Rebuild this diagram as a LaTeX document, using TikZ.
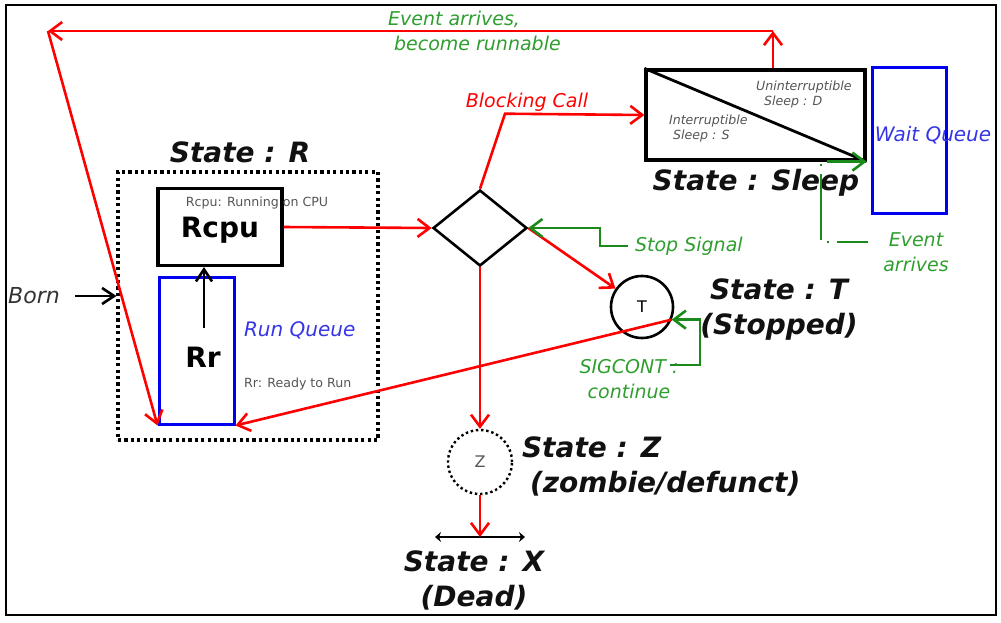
\documentclass[tikz,border=0pt]{standalone}
\usepackage{fontspec}
\setmainfont{DejaVu Sans}
\usepackage{xcolor}
\usepackage{tikz}
\usetikzlibrary{shapes.geometric,arrows.meta,positioning,calc}
\definecolor{PSRed}    {HTML}{FF0000}
\definecolor{PSGreen}  {HTML}{1A8A1A}
\definecolor{PSGreenLt}{HTML}{2E9E2E}
\definecolor{PSBlue}   {HTML}{0000F0}
\definecolor{PSBlueLt} {HTML}{3535E6}
\definecolor{PSGray}   {HTML}{555555}
\definecolor{PSInk}    {HTML}{111111}

\begin{document}
\begin{tikzpicture}[x=0.5pt,y=-0.5pt,
    redarr/.style={draw=PSRed,line width=1.3pt,-{Straight Barb[length=6pt,width=9pt]}},
    grnarr/.style={draw=PSGreen,line width=1.3pt,-{Straight Barb[length=6pt,width=9pt]}},
    blkarr/.style={draw=black,line width=1.3pt,-{Straight Barb[length=6pt,width=8pt]}},
    statelbl/.style={font=\fontsize{14}{17.5}\selectfont\bfseries\itshape,text=PSInk},
    grnlbl/.style={font=\fontsize{9.5}{12.5}\selectfont\itshape,text=PSGreenLt},
    tinylbl/.style={font=\fontsize{6.3}{7.5}\selectfont,text=PSGray},
    box/.style={draw,line width=1.6pt,inner sep=0pt}]
  \useasboundingbox (0,0) rectangle (1001,622);
  \draw[line width=1.4pt] (6,5) rectangle (996,615);

  % State R
  \node[draw,dash pattern=on 1.6pt off 1.6pt,line width=1.6pt,minimum width=130pt,
        minimum height=134pt,inner sep=0pt] (rbox) at (248,306) {};
  \node[statelbl] (rlbl) at (240,152) {State : R};
  \node[box,minimum width=62pt,minimum height=38.5pt,text depth=0pt,
        font=\fontsize{14}{16}\selectfont\bfseries] (rcpu) at (220,227) {Rcpu};
  \node[tinylbl] (rcpunote) at (257,203) {Rcpu: Running on CPU};
  \node[box,draw=PSBlue,line width=1.5pt,minimum width=37.5pt,minimum height=73.5pt] (rr) at (196.5,350.5) {};
  \node[font=\fontsize{14}{16}\selectfont\bfseries] (rrtxt) at (203,357) {Rr};
  \node[font=\fontsize{10}{12}\selectfont\itshape,text=PSBlueLt,anchor=west] (rql) at (237,330) {Run Queue};
  \node[tinylbl,anchor=west] (rrnote) at (237,384) {Rr: Ready to Run};
  \coordinate (rrup) at (204,328);
  \draw[blkarr] (rrup) -- (rrup |- rcpu.south);

  % Born
  \node[font=\fontsize{11}{13}\selectfont\itshape,text=PSGray!60!black] (born) at (34,296) {Born};
  \draw[blkarr] ([xshift=4pt]born.east) -- (born -| rbox.west);

  % Decision
  \node[draw,diamond,line width=1.3pt,minimum width=47pt,minimum height=38pt,inner sep=0pt] (dec) at (480,228) {};
  \draw[redarr] (rcpu.east) -- (dec.west);

  % Sleep
  \node[box,minimum width=109.5pt,minimum height=45pt] (sleep) at (755.5,115) {};
  \draw[line width=1.4pt] (sleep.north west) -- (sleep.south east);
  \node[tinylbl,font=\fontsize{6.3}{7.5}\selectfont\itshape,align=left,anchor=west]
    (uninter) at (749,95) {Uninterruptible\\\hspace*{4pt}Sleep : D};
  \node[tinylbl,font=\fontsize{6.3}{7.5}\selectfont\itshape,align=left,anchor=west]
    (inter) at (662,129) {Interruptible\\\hspace*{2pt}Sleep : S};
  \node[statelbl] (slbl) at (756,183) {State : Sleep};
  \node[box,draw=PSBlue,line width=1.5pt,minimum width=37pt,minimum height=73pt] (waitq) at (909,140) {};
  \node[font=\fontsize{10}{12}\selectfont\itshape,text=PSBlueLt] (wqlbl) at (933,135) {Wait Queue};
  \node[font=\fontsize{9.5}{12}\selectfont\itshape,text=PSRed] (blk) at (527,102) {Blocking Call};
  \draw[redarr] (dec.north) -- ++(25,-75) -- (sleep.west);

  % Event arrives, back to run queue
  \node[grnlbl,align=left,anchor=west] (evtop) at (381,31) {Event arrives,\\\hspace*{3pt}become runnable};
  \coordinate (evt) at (773,31);
  \coordinate (evl) at (48,31);
  \draw[redarr] (sleep.north -| evt) -- (evt);
  \draw[redarr] (evt) -- (evl);
  \draw[redarr] (evl) -- (rr.south west);
  \node[grnlbl,align=center] (evarr) at (916,252) {Event\\arrives};
  \coordinate (evs) at (868,242);
  \draw[grnarr,dash pattern=on 33pt off 4pt on 1pt off 4pt,dash phase=17.5pt]
    (evs) -- ++(-47,0) |- (sleep.south east);

  % State T
  \node[draw,circle,line width=1.3pt,minimum size=31pt,inner sep=0pt,
        font=\fontsize{8}{9}\selectfont] (tst) at (642,307) {T};
  \node[statelbl,align=center] (tlbl) at (779,310) {State : T\\(Stopped)};
  \draw[redarr] (dec.east) -- (tst);
  \node[grnlbl,anchor=west] (stopl) at (628,246) {Stop Signal};
  \draw[grnarr] (stopl.west) -- ++(-28,0) |- (dec.east);
  \draw[redarr] (tst.-23) -- (rr.south east);
  \node[grnlbl,align=center] (sigc) at (629,379) {SIGCONT :\\continue};
  \coordinate (sigs) at (670,365);
  \draw[grnarr] (sigs) -- ++(30,0) |- (tst.-23);

  % State Z and X
  \node[draw,circle,dash pattern=on 1.2pt off 1.4pt,line width=1.2pt,minimum size=32pt,inner sep=0pt,
        font=\fontsize{8}{9}\selectfont,text=PSGray] (zst) at (480,462) {Z};
  \node[statelbl,align=left,anchor=west] (zlbl) at (515,466) {State : Z\\\hspace*{4pt}(zombie/defunct)};
  \draw[redarr] (dec.south) -- (zst);
  \coordinate (xl) at (435,537);
  \coordinate (xr) at (525,537);
  \coordinate (xm) at ($(xl)!0.5!(xr)$);
  \draw[line width=1.4pt,{Stealth[length=3pt,width=5pt]}-{Stealth[length=3pt,width=5pt]}] (xl) -- (xr);
  \draw[redarr] (zst) -- (xm);
  \node[statelbl,align=center] (xlbl) at (474,580) {State : X\\(Dead)};
\end{tikzpicture}
\end{document}
